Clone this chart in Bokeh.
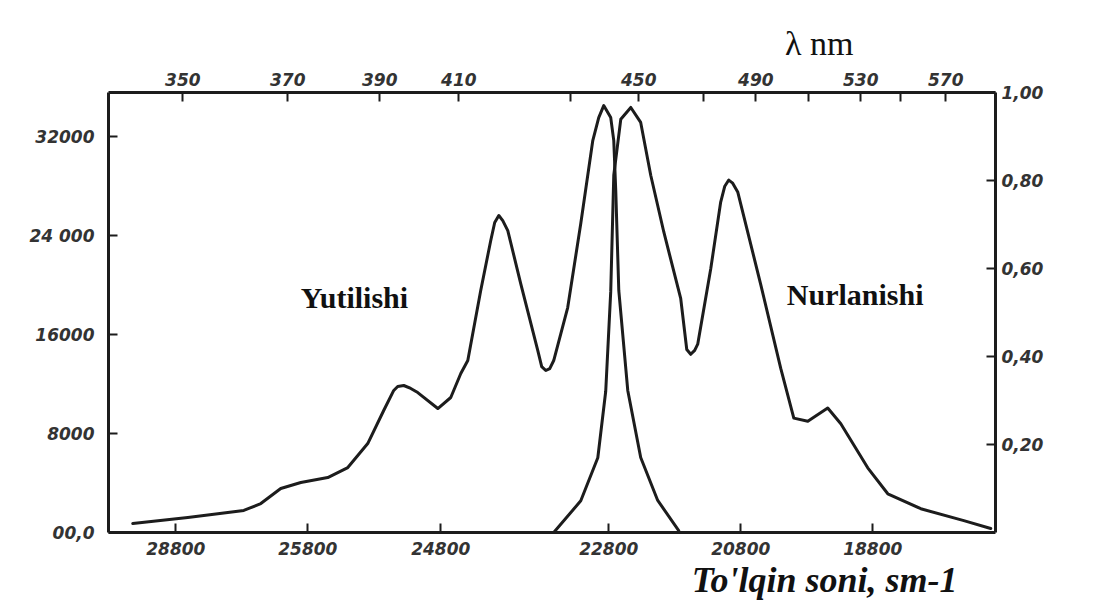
from bokeh.plotting import figure
from bokeh.models import Range1d, LinearAxis, FixedTicker, Title
from bokeh.embed import file_html
from bokeh.resources import INLINE

# Absorption spectrum (left axis, molar absorption) vs. wavenumber (pseudo cm-1 scale of the figure)
abs_w = [26406, 25989, 25565, 25436, 25285, 25133, 24929, 24777, 24626, 24505, 24429, 24399,
         24353, 24300, 24247, 24095, 23997, 23921, 23868, 23770, 23694, 23664, 23633, 23603,
         23565, 23467, 23338, 23308, 23277, 23247, 23217, 23111, 23012, 22921, 22876, 22838,
         22785, 22762, 22747, 22724, 22656, 22558, 22429, 22270]
abs_eps = [730, 1210, 1780, 2340, 3560, 4040, 4440, 5250, 7190, 9860, 11480, 11800,
           11880, 11640, 11310, 10020, 10910, 12850, 13900, 19560, 23600, 25050, 25620, 25210,
           24400, 20120, 14710, 13410, 13090, 13250, 13900, 18180, 24970, 31680, 33530, 34500,
           33530, 31670, 27640, 19560, 11480, 6060, 2590, 160]

# Emission spectrum (right axis, relative intensity)
em_w = [23217, 23012, 22883, 22823, 22785, 22762, 22709, 22633, 22558, 22482, 22383, 22255,
        22209, 22179, 22149, 22126, 22027, 21952, 21921, 21891, 21861, 21823, 21648, 21497,
        21398, 21292, 21141, 21042, 20838, 20686, 20436, 20110, 19906]
em_int = [0.0, 0.072, 0.170, 0.321, 0.548, 0.812, 0.939, 0.966, 0.932, 0.812, 0.683, 0.532,
          0.416, 0.405, 0.414, 0.428, 0.600, 0.751, 0.787, 0.801, 0.794, 0.774, 0.563, 0.373,
          0.260, 0.253, 0.283, 0.247, 0.147, 0.088, 0.054, 0.027, 0.009]

# Axis ticks as printed on the figure
bottom_ticks = [26080, 25080, 24073, 22800, 21800, 20800]
bottom_labels = ["28800", "25800", "24800", "22800", "20800", "18800"]
top_ticks = [26027, 25232, 24535, 23936, 23088, 22573, 22080, 21686, 21285, 20891, 20588, 20247]
top_labels = ["350", "370", "390", "410", "", "450", "", "490", "", "530", "", "570"]
left_ticks = [0, 8000, 16000, 24000, 32000]
left_labels = ["00,0", "8000", "16000", "24 000", "32000"]
right_ticks = [0.2, 0.4, 0.6, 0.8, 1.0]
right_labels = ["0,20", "0,40", "0,60", "0,80", "1,00"]

INK = "#1c1c1c"

p = figure(frame_width=887, frame_height=440,
           min_border_left=108, min_border_right=105, min_border_top=92, min_border_bottom=73,
           x_range=Range1d(26590, 19870), y_range=Range1d(0, 35560),
           x_axis_location=None, y_axis_location=None,
           output_backend="svg", toolbar_location=None)
p.extra_y_ranges = {"em": Range1d(0, 1.0)}
p.grid.visible = False
p.outline_line_color = None
p.background_fill_color = "white"
p.border_fill_color = "white"


def style(ax, labels, ticks):
    ax.major_label_overrides = {t: l for t, l in zip(ticks, labels)}
    ax.axis_line_width = 3
    ax.axis_line_color = INK
    ax.major_tick_line_width = 2
    ax.major_tick_line_color = INK
    ax.major_tick_in = 9
    ax.major_tick_out = 0
    ax.minor_tick_line_color = None
    ax.major_label_text_font = "DejaVu Sans"
    ax.major_label_text_font_style = "bold italic"
    ax.major_label_text_font_size = "17px"
    ax.major_label_text_color = "#333333"


bottom = LinearAxis(ticker=FixedTicker(ticks=bottom_ticks))
style(bottom, bottom_labels, bottom_ticks)
bottom.major_label_standoff = 9
p.add_layout(bottom, "below")

top = LinearAxis(ticker=FixedTicker(ticks=top_ticks))
style(top, top_labels, top_ticks)
top.major_label_standoff = 7
p.add_layout(top, "above")

left = LinearAxis(ticker=FixedTicker(ticks=left_ticks))
style(left, left_labels, left_ticks)
left.major_label_standoff = 14
p.add_layout(left, "left")

right = LinearAxis(y_range_name="em", ticker=FixedTicker(ticks=right_ticks))
style(right, right_labels, right_ticks)
right.major_label_standoff = 6
p.add_layout(right, "right")

p.line(abs_w, abs_eps, line_width=3, line_color=INK, line_join="round", line_cap="round")
p.line(em_w, em_int, line_width=3, line_color=INK, line_join="round", line_cap="round",
       y_range_name="em")

# In-plot labels
p.text(x=[25133], y=[18990], text=["Yutilishi"], text_font={"value": "Liberation Serif"},
       text_font_style="bold", text_font_size="30px", text_baseline="middle",
       text_color="#111111")
p.text(x=[21451], y=[19230], text=["Nurlanishi"], text_font={"value": "Liberation Serif"},
       text_font_style="bold", text_font_size="30px", text_baseline="middle",
       text_color="#111111")

# Axis titles
p.add_layout(Title(text="λ nm", align="right", offset=142, text_font="Liberation Serif",
                   text_font_style="normal", text_font_size="34px", text_color="#111111",
                   standoff=16), "above")
p.add_layout(Title(text="To'lqin soni, sm-1", align="right", offset=38,
                   text_font="Liberation Serif", text_font_style="bold italic",
                   text_font_size="36px", text_color="#111111", standoff=0), "below")

open("out.html", "w").write(file_html(p, INLINE))
